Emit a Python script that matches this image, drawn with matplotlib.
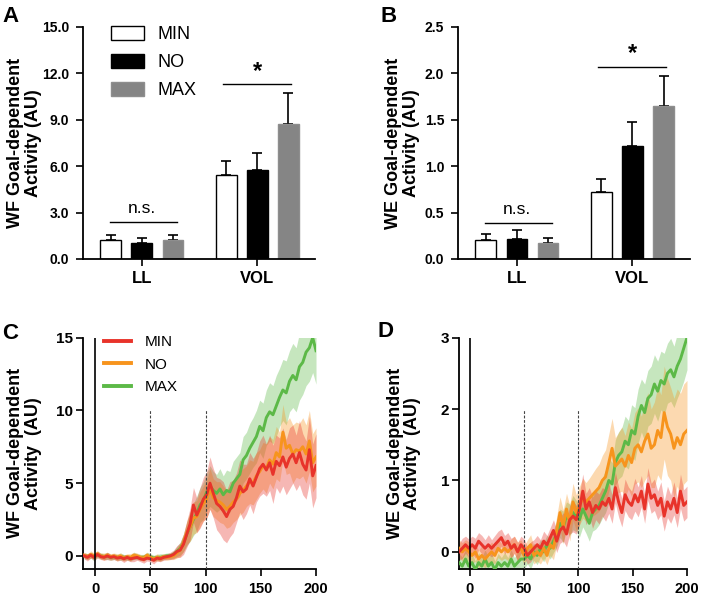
import numpy as np
import matplotlib
matplotlib.use("Agg")
import matplotlib.pyplot as plt
from matplotlib.lines import Line2D

plt.rcParams['font.family'] = ['Liberation Sans', 'DejaVu Sans']

# ---------------- data: bar panels ----------------
groups = ["LL", "VOL"]
conds = ["MIN", "NO", "MAX"]
wf_mean = {"MIN": [1.2, 5.4], "NO": [1.05, 5.75], "MAX": [1.25, 8.75]}
wf_err = {"MIN": [0.35, 0.95], "NO": [0.3, 1.1], "MAX": [0.3, 1.95]}
we_mean = {"MIN": [0.2, 0.72], "NO": [0.21, 1.22], "MAX": [0.17, 1.65]}
we_err = {"MIN": [0.07, 0.14], "NO": [0.1, 0.26], "MAX": [0.06, 0.32]}
wf_ticks = [0.0, 3.0, 6.0, 9.0, 12.0, 15.0]
we_ticks = [0.0, 0.5, 1.0, 1.5, 2.0, 2.5]

# ---------------- data: time series ----------------
t = np.arange(-10, 201, 3)

c_min = [0.0, -0.1, 0.05, -0.1, 0.1, -0.05, -0.1, 0.0, -0.1, -0.05,
         -0.15, -0.1, -0.2, -0.1, -0.2, -0.15, -0.1, -0.2, -0.25, -0.15,
         -0.2, -0.3, -0.15, -0.2, -0.1, -0.05, 0.0, 0.1, 0.3, 0.4,
         0.8, 1.5, 2.2, 3.5, 2.8, 3.3, 3.9, 4.2, 5.0, 4.3,
         3.6, 3.4, 3.1, 2.7, 3.2, 3.4, 4.0, 4.8, 4.4, 4.6,
         5.3, 4.8, 5.4, 6.0, 6.3, 5.9, 6.4, 5.6, 6.5, 6.2,
         6.8, 6.1, 6.7, 7.0, 6.4, 7.1, 6.3, 5.9, 7.3, 5.5, 6.2]
c_no = [0.05, -0.05, 0.1, 0.0, 0.15, 0.0, -0.05, 0.05, -0.05, 0.0,
        -0.1, 0.0, -0.15, -0.05, -0.1, 0.05, 0.0, -0.1, -0.15, 0.05,
        -0.1, -0.2, -0.1, -0.15, -0.05, -0.1, -0.05, 0.0, 0.2, 0.4,
        0.9, 1.6, 2.0, 2.6, 2.7, 3.2, 3.6, 3.9, 4.6, 4.0,
        3.8, 3.7, 3.5, 3.2, 3.4, 3.7, 3.9, 4.3, 4.5, 4.8,
        5.1, 5.0, 5.5, 5.8, 6.2, 6.0, 6.6, 6.3, 7.1, 6.8,
        8.5, 7.4, 7.6, 7.0, 7.3, 7.2, 7.5, 7.0, 7.9, 6.4, 6.8]
c_max = [0.0, -0.05, 0.05, -0.1, 0.1, 0.0, -0.05, 0.0, -0.1, -0.05,
         -0.1, -0.05, -0.1, -0.1, -0.15, 0.0, -0.05, -0.1, -0.1, 0.0,
         -0.05, -0.15, -0.1, -0.1, -0.05, 0.0, 0.0, 0.1, 0.3, 0.5,
         0.9, 1.5, 2.0, 2.5, 2.9, 3.5, 3.8, 4.4, 4.8, 4.5,
         4.3, 4.6, 4.2, 4.5, 4.4, 5.0, 5.3, 5.6, 6.6, 6.9,
         7.4, 7.8, 8.2, 8.9, 8.6, 9.5, 9.9, 9.7, 10.3, 10.9,
         11.4, 11.2, 12.0, 12.4, 12.1, 13.0, 13.3, 14.0, 14.3, 15.0, 14.1]
c_min_sd = [0.2, 0.25, 0.2, 0.2, 0.25, 0.2, 0.2, 0.25, 0.2, 0.2,
            0.2, 0.2, 0.25, 0.2, 0.2, 0.25, 0.2, 0.2, 0.25, 0.2,
            0.2, 0.25, 0.2, 0.2, 0.2, 0.2, 0.25, 0.3, 0.4, 0.5,
            0.7, 0.9, 1.1, 1.2, 1.2, 1.4, 1.5, 1.6, 1.8, 1.7,
            1.8, 1.9, 2.0, 1.8, 1.9, 1.8, 1.7, 1.8, 1.9, 1.7,
            1.8, 1.9, 1.7, 1.9, 2.0, 1.8, 1.9, 2.0, 1.8, 1.9,
            2.0, 1.9, 2.1, 2.0, 1.9, 2.2, 2.1, 2.0, 2.3, 2.2, 2.2]
c_no_sd = [0.2, 0.2, 0.25, 0.2, 0.2, 0.2, 0.25, 0.2, 0.2, 0.2,
           0.25, 0.2, 0.2, 0.2, 0.25, 0.2, 0.2, 0.2, 0.25, 0.2,
           0.2, 0.2, 0.25, 0.2, 0.2, 0.2, 0.2, 0.25, 0.35, 0.45,
           0.6, 0.8, 1.0, 1.1, 1.1, 1.2, 1.2, 1.3, 1.4, 1.3,
           1.3, 1.4, 1.3, 1.3, 1.4, 1.4, 1.4, 1.5, 1.5, 1.4,
           1.5, 1.5, 1.6, 1.5, 1.6, 1.7, 1.6, 1.7, 1.8, 1.7,
           1.9, 1.8, 1.9, 2.0, 1.9, 1.9, 2.0, 2.0, 2.1, 2.0, 2.0]
c_max_sd = [0.2, 0.2, 0.2, 0.25, 0.2, 0.2, 0.2, 0.25, 0.2, 0.2,
            0.2, 0.25, 0.2, 0.2, 0.2, 0.25, 0.2, 0.2, 0.2, 0.25,
            0.2, 0.2, 0.2, 0.25, 0.2, 0.2, 0.2, 0.25, 0.35, 0.45,
            0.6, 0.8, 1.0, 1.1, 1.2, 1.2, 1.3, 1.3, 1.4, 1.3,
            1.3, 1.4, 1.3, 1.4, 1.4, 1.5, 1.5, 1.5, 1.6, 1.6,
            1.7, 1.7, 1.8, 1.8, 1.9, 1.9, 2.0, 2.0, 2.1, 2.0,
            2.1, 2.2, 2.1, 2.2, 2.2, 2.3, 2.2, 2.3, 2.3, 2.4, 2.3]

d_min = [0.0, 0.05, 0.1, 0.05, 0.1, 0.05, 0.15, 0.1, 0.05, 0.1,
         0.05, 0.1, 0.15, 0.2, 0.1, 0.15, 0.05, 0.1, 0.0, 0.1,
         0.05, -0.05, 0.0, 0.05, 0.1, 0.05, 0.15, 0.1, 0.2, 0.3,
         0.15, 0.3, 0.35, 0.25, 0.45, 0.5, 0.45, 0.6, 0.85, 0.6,
         0.7, 0.55, 0.65, 0.6, 0.7, 0.65, 0.75, 0.6, 0.9, 0.7,
         0.55, 0.8, 0.7, 0.65, 0.8, 0.7, 0.85, 0.6, 0.95, 0.75,
         0.8, 0.65, 0.75, 0.5, 0.7, 0.6, 0.75, 0.55, 0.85, 0.65, 0.7]
d_no = [0.05, 0.0, 0.05, 0.0, -0.05, 0.0, -0.1, -0.05, -0.1, -0.05,
        0.0, -0.05, 0.05, 0.0, 0.05, 0.0, 0.05, 0.1, 0.0, 0.05,
        -0.05, 0.05, 0.1, -0.05, 0.0, -0.05, 0.05, -0.05, 0.1, 0.05,
        0.3, 0.55, 0.35, 0.6, 0.4, 0.7, 0.55, 0.65, 0.75, 0.7,
        0.75, 0.8, 0.85, 0.9, 1.0, 1.05, 1.25, 1.45, 1.2, 1.25,
        1.3, 1.2, 1.35, 1.25, 1.45, 1.5, 1.4, 1.55, 1.65, 1.45,
        1.5, 1.7, 1.6, 1.95, 1.75, 1.65, 1.45, 1.6, 1.5, 1.65, 1.7]
d_max = [-0.15, -0.2, -0.1, -0.2, -0.15, -0.25, -0.15, -0.2, -0.1, -0.2,
         -0.15, -0.25, -0.15, -0.2, -0.15, -0.2, -0.1, -0.2, -0.15, -0.1,
         -0.1, -0.05, -0.1, 0.0, -0.05, 0.05, 0.0, 0.1, 0.05, 0.15,
         0.25, 0.4, 0.35, 0.5, 0.45, 0.55, 0.5, 0.45, 0.6, 0.5,
         0.4, 0.55, 0.6, 0.65, 0.75, 0.85, 1.0, 0.95, 1.25, 1.35,
         1.4, 1.55, 1.5, 1.7, 1.65, 1.9, 2.05, 1.95, 2.15, 2.2,
         2.35, 2.25, 2.4, 2.35, 2.5, 2.55, 2.45, 2.6, 2.7, 2.85, 3.0]
d_min_sd = [0.12, 0.14, 0.12, 0.13, 0.12, 0.14, 0.12, 0.13, 0.12, 0.14,
            0.12, 0.13, 0.14, 0.12, 0.13, 0.12, 0.14, 0.12, 0.13, 0.12,
            0.13, 0.12, 0.14, 0.12, 0.13, 0.12, 0.14, 0.13, 0.14, 0.15,
            0.16, 0.18, 0.2, 0.18, 0.2, 0.22, 0.2, 0.22, 0.24, 0.22,
            0.2, 0.22, 0.2, 0.21, 0.2, 0.22, 0.21, 0.2, 0.22, 0.21,
            0.2, 0.22, 0.21, 0.2, 0.23, 0.21, 0.22, 0.2, 0.23, 0.21,
            0.22, 0.2, 0.23, 0.21, 0.22, 0.2, 0.23, 0.21, 0.24, 0.22, 0.22]
d_no_sd = [0.12, 0.13, 0.12, 0.14, 0.12, 0.13, 0.12, 0.14, 0.12, 0.13,
           0.14, 0.12, 0.13, 0.12, 0.14, 0.12, 0.13, 0.12, 0.14, 0.12,
           0.13, 0.12, 0.14, 0.12, 0.13, 0.12, 0.14, 0.13, 0.15, 0.16,
           0.2, 0.22, 0.24, 0.22, 0.25, 0.26, 0.25, 0.27, 0.28, 0.27,
           0.28, 0.3, 0.32, 0.33, 0.35, 0.38, 0.4, 0.42, 0.4, 0.42,
           0.45, 0.43, 0.47, 0.48, 0.5, 0.52, 0.5, 0.55, 0.58, 0.55,
           0.6, 0.62, 0.6, 0.65, 0.68, 0.65, 0.7, 0.68, 0.72, 0.7, 0.7]
d_max_sd = [0.12, 0.13, 0.14, 0.12, 0.13, 0.12, 0.14, 0.12, 0.13, 0.12,
            0.14, 0.12, 0.13, 0.12, 0.14, 0.12, 0.13, 0.12, 0.14, 0.12,
            0.13, 0.12, 0.14, 0.12, 0.13, 0.12, 0.14, 0.13, 0.15, 0.16,
            0.18, 0.2, 0.22, 0.2, 0.22, 0.24, 0.22, 0.24, 0.25, 0.24,
            0.25, 0.26, 0.28, 0.27, 0.28, 0.3, 0.31, 0.3, 0.32, 0.33,
            0.34, 0.35, 0.34, 0.36, 0.37, 0.38, 0.37, 0.4, 0.39, 0.4,
            0.41, 0.42, 0.41, 0.43, 0.42, 0.44, 0.43, 0.45, 0.44, 0.46, 0.45]

ts_colors = {"MIN": "#e8332a", "NO": "#f7941d", "MAX": "#5cb947"}

# ---------------- figure ----------------
fig = plt.figure(figsize=(7.01, 6.02), dpi=100)
axA = fig.add_axes([0.1184, 0.5698, 0.331, 0.3854])
axB = fig.add_axes([0.6534, 0.5698, 0.331, 0.3854])
axC = fig.add_axes([0.1184, 0.0548, 0.3324, 0.3844])
axD = fig.add_axes([0.6548, 0.0548, 0.3252, 0.3844])

bar_face = {"MIN": "white", "NO": "black", "MAX": "#858585"}
bar_edge = {"MIN": "black", "NO": "black", "MAX": "#8e8e8e"}
offsets = {"MIN": -0.27, "NO": 0.0, "MAX": 0.27}
xg = np.arange(len(groups))


def style_axes(ax, pad):
    for s in ["top", "right"]:
        ax.spines[s].set_visible(False)
    for s in ["left", "bottom"]:
        ax.spines[s].set_linewidth(1.3)
    ax.tick_params(width=1.2, length=5, direction="out", pad=pad)


def bar_panel(ax, means, errs, ticks, fmt, ylabel, label_x):
    for c in conds:
        ax.bar(xg + offsets[c], means[c], width=0.18, color=bar_face[c],
               edgecolor=bar_edge[c], linewidth=1.0, label=c, zorder=2)
        ax.errorbar(xg + offsets[c], means[c],
                    yerr=[np.zeros(len(groups)), errs[c]], fmt="none",
                    ecolor="black", elinewidth=1.2, capsize=3.6,
                    capthick=1.2, zorder=1)
    style_axes(ax, 5)
    ax.set_xlim(-0.51, 1.5)
    ax.set_ylim(ticks[0], ticks[-1])
    ax.set_yticks(ticks)
    ax.set_yticklabels([fmt.format(v) for v in ticks], fontsize=10,
                       fontweight="bold")
    ax.set_xticks(xg)
    ax.set_xticklabels(groups, fontsize=12, fontweight="bold")
    ax.tick_params(axis="x", pad=4)
    ax.set_ylabel(ylabel, fontsize=13, fontweight="bold", linespacing=1.05)
    ax.yaxis.set_label_coords(label_x, 0.5)


bar_panel(axA, wf_mean, wf_err, wf_ticks, "{:.1f}",
          "WF Goal-dependent\nActivity (AU)", -0.177)
bar_panel(axB, we_mean, we_err, we_ticks, "{:.1f}",
          "WE Goal-dependent\nActivity (AU)", -0.164)

# significance annotations
axA.plot([-0.28, 0.3], [2.4, 2.4], color="black", lw=1.0)
axA.text(0.0, 2.75, "n.s.", ha="center", va="bottom", fontsize=12.5)
axA.plot([0.7, 1.29], [11.3, 11.3], color="black", lw=1.0)
axA.text(1.0, 11.4, "*", ha="center", va="bottom", fontsize=17,
         fontweight="bold")
axB.plot([-0.28, 0.3], [0.39, 0.39], color="black", lw=1.0)
axB.text(0.0, 0.455, "n.s.", ha="center", va="bottom", fontsize=12.5)
axB.plot([0.7, 1.29], [2.07, 2.07], color="black", lw=1.0)
axB.text(1.0, 2.09, "*", ha="center", va="bottom", fontsize=17,
         fontweight="bold")

axA.legend(loc="upper left", bbox_to_anchor=(0.12, 1.003), frameon=False,
           fontsize=13, handlelength=1.85, handleheight=0.8,
           labelspacing=0.6, handletextpad=0.75, borderpad=0,
           borderaxespad=0)


def ts_panel(ax, series, sds, ylim, yticks, vline_top, dash_top, ylabel,
             label_x, xlim):
    for c in ["MAX", "NO", "MIN"]:
        m = np.array(series[c])
        s = np.array(sds[c])
        ax.fill_between(t, m - s, m + s, color=ts_colors[c], alpha=0.35,
                        linewidth=0, zorder=1)
    for c in ["MAX", "NO", "MIN"]:
        ax.plot(t, series[c], color=ts_colors[c], lw=2.1, zorder=3)
    style_axes(ax, 4)
    ax.set_xlim(*xlim)
    ax.set_ylim(*ylim)
    ax.set_yticks(yticks)
    ax.set_yticklabels([str(v) for v in yticks], fontsize=11,
                       fontweight="bold")
    ax.tick_params(axis="y", pad=2)
    ax.set_xticks([0, 50, 100, 150, 200])
    ax.set_xticklabels(["0", "50", "100", "150", "200"], fontsize=10.5,
                       fontweight="bold")
    ax.plot([0, 0], [ylim[0], vline_top], color="black", lw=1.2, zorder=4)
    for xv in [50, 100]:
        ax.plot([xv, xv], [ylim[0], dash_top], color="#444444", lw=0.8,
                ls=(0, (2.5, 1.5)), zorder=4)
    ax.set_ylabel(ylabel, fontsize=13, fontweight="bold", linespacing=1.05)
    ax.yaxis.set_label_coords(label_x, 0.5)


c_series = {"MIN": c_min, "NO": c_no, "MAX": c_max}
c_sds = {"MIN": c_min_sd, "NO": c_no_sd, "MAX": c_max_sd}
d_series = {"MIN": d_min, "NO": d_no, "MAX": d_max}
d_sds = {"MIN": d_min_sd, "NO": d_no_sd, "MAX": d_max_sd}

ts_panel(axC, c_series, c_sds, (-0.9, 15), [0, 5, 10, 15], 15, 10,
         "WF Goal-dependent\nActivity  (AU)", -0.176, (-11, 200))
ts_panel(axD, d_series, d_sds, (-0.24, 3), [0, 1, 2, 3], 3, 2,
         "WE Goal-dependent\nActivity  (AU)", -0.166, (-10, 200))

handles = [Line2D([0], [0], color=ts_colors[c], lw=2.8) for c in conds]
axC.legend(handles, conds, loc="upper left", bbox_to_anchor=(0.09, 1.01),
           frameon=False, fontsize=11, handlelength=1.75,
           labelspacing=0.55, handletextpad=0.9, borderpad=0,
           borderaxespad=0)

# panel letters
for txt, (x, y) in {"A": (0.003, 0.99), "B": (0.543, 0.99),
                    "C": (0.003, 0.464), "D": (0.538, 0.467)}.items():
    fig.text(x, y, txt, fontsize=16, fontweight="bold", ha="left",
             va="top")

fig.savefig("out.png", dpi=100)
